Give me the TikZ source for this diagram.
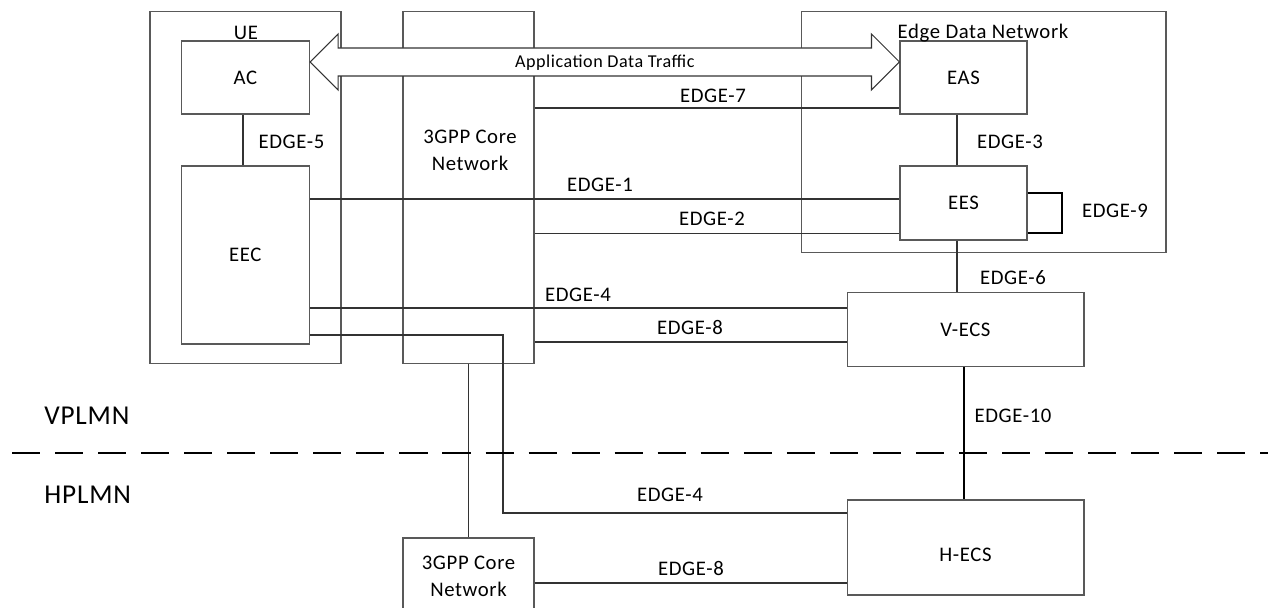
\documentclass[tikz,border=0pt]{standalone}
\usepackage{fontspec}
\setmainfont{Carlito}[LetterSpace=3]
\usetikzlibrary{calc}
\newcommand\edgefont{\fontsize{11.8}{15.4}\selectfont}
\newcommand\planfont{\fontsize{15.5}{18}\selectfont}
\newcommand\trafficfont{\fontsize{10.3}{12}\selectfont}

\begin{document}
\begin{tikzpicture}[x=0.02cm, y=-0.02cm,
    box/.style={draw=black!65, line width=0.6pt, rectangle, inner sep=0pt, font=\edgefont},
    lbl/.style={inner sep=0pt, font=\edgefont},
    wire/.style={draw=black!80, line width=0.6pt},
    heavy/.style={draw=black, line width=1.2pt},
    bigarrow/.style={draw=black!80, line width=0.6pt, fill=white}]
			%%%%% START %%%%%
			\useasboundingbox (0,0) rectangle (1268,608);

			% outer boxes
			\node[box, minimum width=3.82cm, minimum height=7.05cm] (ue) at (245.5,187.75) {};
			\node[box, minimum width=2.62cm, minimum height=7.05cm] (core) at (468.5,187.75) {};
			\node[box, minimum width=7.3cm, minimum height=4.82cm] (edn) at (983.5,132.1) {};

			% functions
			\node[box, minimum width=2.57cm, minimum height=1.46cm] (ac) at (245.3,77.5) {AC};
			\node[box, minimum width=2.57cm, minimum height=3.56cm] (eec) at (245.3,255) {EEC};
			\node[box, minimum width=2.54cm, minimum height=1.46cm] (eas) at (963.5,77.5) {EAS};
			\node[box, minimum width=2.54cm, minimum height=1.48cm] (ees) at (963.5,203) {EES};
			\node[box, minimum width=4.74cm, minimum height=1.48cm] (vecs) at (965.5,329.7) {V-ECS};
			\node[box, minimum width=4.74cm, minimum height=1.9cm] (hecs) at (965.5,547.5) {};
			\node[box, minimum width=2.62cm, minimum height=1.52cm, align=center] (core2) at (468.5,576) {3GPP Core\\Network};

			% interfaces
			\draw[wire] (ac.south -| 243,0) -- (eec.north -| 243,0);
			\draw[wire] (core.east |- 0,108) -- (eas.west |- 0,108);
			\draw[wire] (eas.south -| 957,0) -- (ees.north -| 957,0);
			\draw[wire] (eec.east |- 0,199) -- (ees.west |- 0,199);
			\draw[wire] (core.east |- 0,233.7) -- (ees.west |- 0,233.7);
			\draw[wire] (ees.south -| 957,0) -- (vecs.north -| 957,0);
			\draw[wire] (eec.east |- 0,308) -- (vecs.west |- 0,308);
			\draw[wire] (core.east |- 0,342) -- (vecs.west |- 0,342);
			\draw[wire] (eec.east |- 0,335) -- (503,335) |- (hecs.west |- 0,513);
			\draw[wire] (core.south) -- (core2.north);
			\draw[wire] (core2.east |- 0,583) -- (hecs.west |- 0,583);
			\draw[heavy] (ees.east |- 0,193) -- (1062,193) -- (1062,233) -- (ees.east |- 0,233);
			\draw[heavy] (vecs.south -| 964,0) -- (hecs.north -| 964,0);

			% application traffic
			\coordinate (appl) at (ac.east |- 0,62);
			\coordinate (appr) at (eas.west |- 0,62);
			\draw[bigarrow] (appl) -- ++(28,-28) -- ++(0,14) -- ($(appr)+(-28,-14)$) -- ++(0,-14)
				-- (appr) -- ++(-28,28) -- ++(0,-14) -- ($(appl)+(28,14)$) -- ++(0,14) -- cycle;
			\node[lbl, font=\trafficfont, anchor=base] (traffic) at ($(appl)!0.5!(appr)+(0,5.5)$) {Application Data Traffic};

			% texts
			\node[lbl] (uelbl) at (246,33) {UE};
			\node[lbl, anchor=base] (ednlbl) at (983,39) {Edge Data Network};
			\node[lbl, align=center] (corelbl) at (470,150) {3GPP Core\\Network};
			\node[lbl] (hecslbl) at (965.5,555) {H-ECS};
			\node[lbl] (e5) at (291.5,141.5) {EDGE-5};
			\node[lbl] (e7) at (713,96) {EDGE-7};
			\node[lbl] (e3) at (1010,142) {EDGE-3};
			\node[lbl] (e1) at (600,185) {EDGE-1};
			\node[lbl] (e2) at (712,219) {EDGE-2};
			\node[lbl] (e9) at (1115,211) {EDGE-9};
			\node[lbl] (e6) at (1013,278) {EDGE-6};
			\node[lbl] (e4) at (578,295) {EDGE-4};
			\node[lbl] (e8) at (690,327.5) {EDGE-8};
			\node[lbl] (e10) at (1013,415.5) {EDGE-10};
			\node[lbl] (e4h) at (670,494.5) {EDGE-4};
			\node[lbl] (e8h) at (691,568.5) {EDGE-8};

			% network split
			\node[lbl, font=\planfont, anchor=west] (vplmn) at (44,416) {VPLMN};
			\node[lbl, font=\planfont, anchor=west] (hplmn) at (44,495) {HPLMN};
			\draw[line width=1.1pt, dash pattern=on 16pt off 8.5pt] (12,453) -- (1268,453);
			%%%%% END %%%%%
\end{tikzpicture}
\end{document}
